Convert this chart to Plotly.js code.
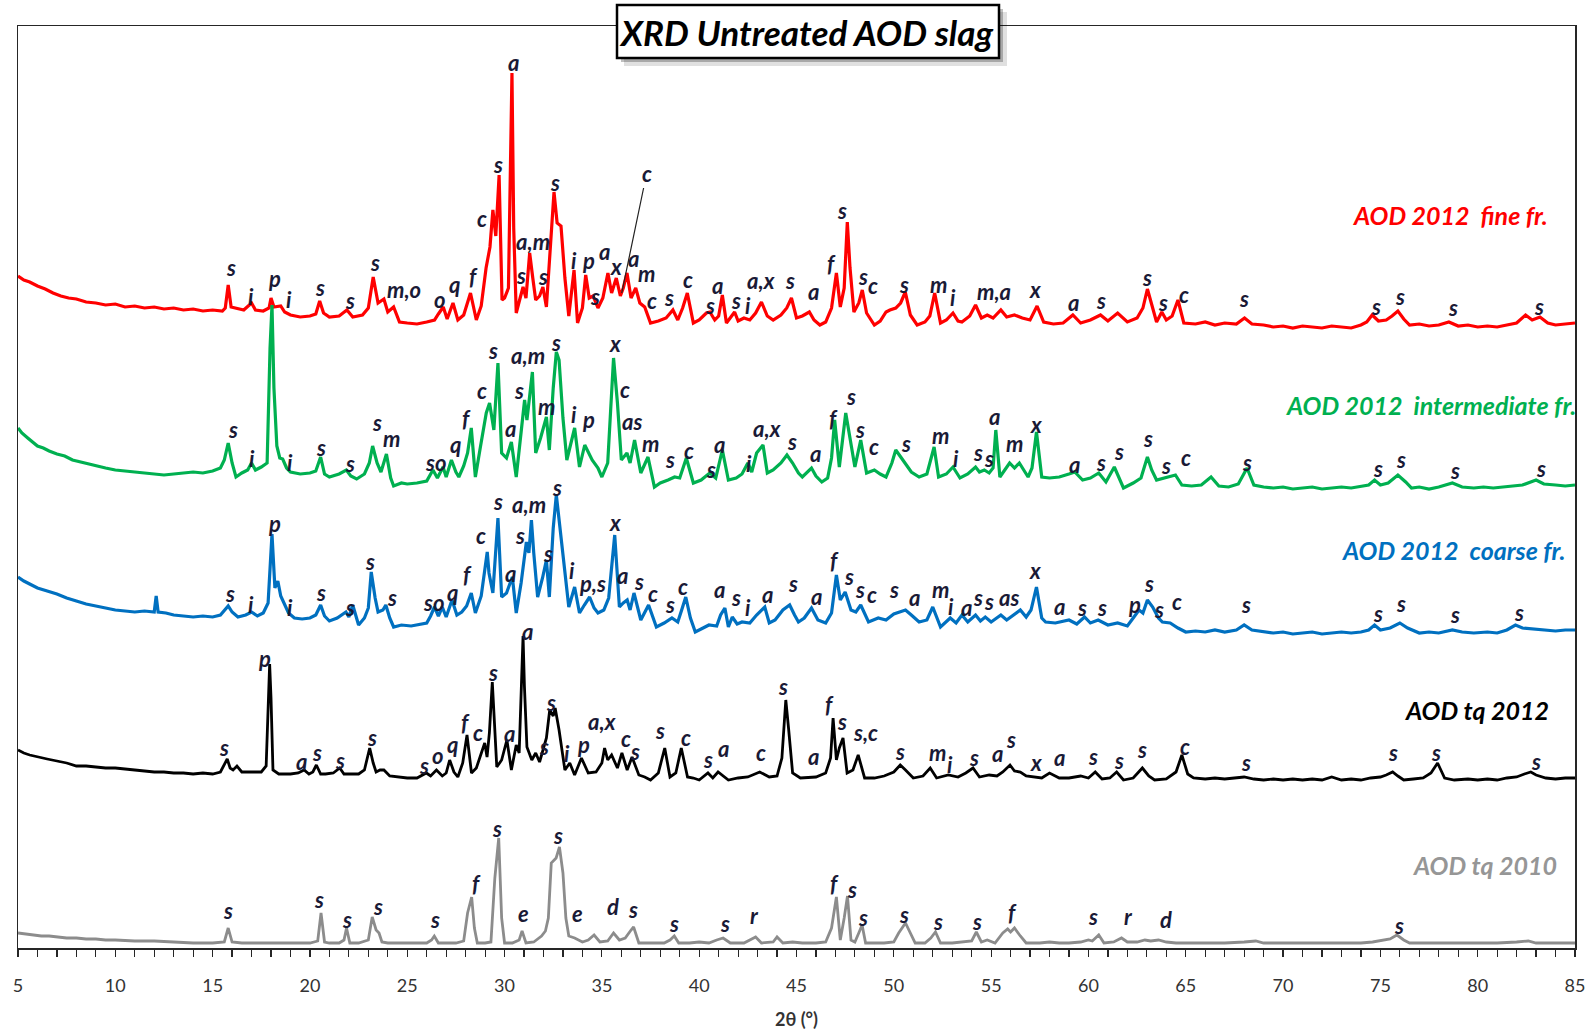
<!DOCTYPE html>
<html>
<head>
<meta charset="utf-8">
<script src="https://cdn.plot.ly/plotly-3.0.1.min.js"></script>
<style>html,body{margin:0;padding:0;background:#fff;}#chart{width:1591px;height:1035px;}</style>
</head>
<body>
<div id="chart"></div>
<script>
// ---------- series data (2θ in degrees, stacked intensity in plot units) ----------
const redX = [5.0,5.3,5.6,6.0,6.4,6.8,7.2,7.6,8.0,8.5,9.0,9.5,10.0,10.5,11.0,11.5,12.0,12.5,13.0,13.5,14.0,14.5,15.0,15.5,15.65,15.8,15.95,16.2,16.6,17.0,17.2,17.6,17.9,18.0,18.15,18.5,18.7,19.0,19.5,20.0,20.3,20.5,20.7,21.0,21.5,21.9,22.2,22.7,23.0,23.25,23.5,23.8,24.0,24.3,24.6,25.0,25.5,26.0,26.4,26.6,26.85,27.05,27.35,27.6,27.9,28.25,28.55,28.8,29.05,29.25,29.4,29.55,29.72,29.87,30.0,30.2,30.38,30.47,30.6,30.8,30.95,31.1,31.29,31.45,31.6,31.8,31.97,32.15,32.35,32.54,32.7,32.9,33.1,33.3,33.57,33.75,34.0,34.17,34.35,34.55,34.8,35.05,35.31,35.5,35.74,35.95,36.1,36.29,36.5,36.74,36.95,37.2,37.5,37.9,38.3,38.65,38.9,39.15,39.39,39.7,40.0,40.37,40.55,40.8,41.0,41.19,41.4,41.6,41.82,42.0,42.3,42.6,42.9,43.2,43.5,43.8,44.2,44.5,44.74,45.0,45.3,45.66,45.9,46.2,46.5,46.8,47.05,47.25,47.45,47.61,47.75,47.95,48.2,48.38,48.6,49.0,49.3,49.6,49.8,50.1,50.35,50.59,50.85,51.2,51.6,51.85,52.1,52.4,52.7,53.04,53.3,53.5,53.9,54.2,54.5,54.8,55.1,55.5,55.8,56.2,56.6,57.0,57.36,57.7,58.2,58.7,59.2,59.6,60.1,60.62,61.0,61.5,62.0,62.5,62.8,63.03,63.3,63.5,63.77,64.0,64.3,64.6,64.9,65.5,66.0,66.5,67.0,67.6,68.02,68.4,69.0,69.5,70.0,70.5,71.0,71.5,72.0,72.5,73.0,73.5,74.0,74.3,74.58,74.9,75.3,75.6,75.9,76.2,76.5,77.0,77.5,78.0,78.52,79.0,79.5,80.0,80.5,81.0,81.5,82.0,82.46,82.8,83.2,83.6,84.0,84.5,85.0];
const redY = [672,668,666,662,659,655,652,650,649,646,645,643,644,641,642,640,641,639,640,638,639,637,638,637,640,663,641,640,638,645,638,637,640,650,641,642,636,633,631,632,634,647,635,631,632,638,631,633,640,671,645,649,636,641,626,625,624,626,628,634,641,629,645,628,633,655,628,642,680,701,738,712,773,648,650,660,875,720,635,650,661,650,695,670,648,652,661,641,700,756,725,722,670,632,678,625,640,673,650,652,640,650,675,655,670,652,660,675,650,660,645,641,625,627,630,638,628,640,655,625,628,635,636,628,632,653,625,630,636,627,630,628,635,646,632,628,633,640,650,630,632,636,628,623,626,640,675,641,660,726,680,636,645,658,635,623,627,636,638,640,645,656,633,623,626,632,655,625,628,635,627,626,632,643,630,633,630,638,631,633,630,628,642,626,624,625,633,625,628,633,627,635,626,630,640,659,640,626,636,628,632,648,625,624,626,623,625,624,630,624,623,621,622,620,622,621,620,622,621,620,623,626,633,627,628,632,637,629,623,624,622,623,626,622,623,621,622,621,623,625,633,628,631,625,623,624,625];

const greenX = [5.0,5.2,5.5,5.8,6.0,6.3,6.6,7.0,7.4,7.8,8.2,8.6,9.0,9.5,10.0,10.5,11.0,11.5,12.0,12.5,13.0,13.5,14.0,14.5,15.0,15.4,15.6,15.8,16.0,16.2,16.5,16.8,17.0,17.2,17.5,17.8,17.95,18.05,18.15,18.3,18.45,18.6,18.8,19.0,19.5,20.0,20.3,20.55,20.75,21.0,21.5,21.87,22.1,22.4,22.8,23.05,23.22,23.45,23.65,23.93,24.15,24.3,24.7,25.0,25.5,26.0,26.32,26.55,26.84,27.0,27.27,27.5,27.65,27.9,28.1,28.29,28.5,28.75,29.06,29.23,29.45,29.66,29.85,30.1,30.35,30.6,30.86,31.03,31.15,31.43,31.6,31.85,32.15,32.3,32.5,32.66,32.8,33.0,33.2,33.6,33.85,34.12,34.5,34.8,35.0,35.3,35.6,35.8,36.0,36.29,36.45,36.68,37.0,37.37,37.7,38.0,38.4,38.74,39.0,39.34,39.7,40.1,40.54,40.85,41.19,41.5,41.9,42.2,42.5,42.7,42.95,43.28,43.5,43.8,44.2,44.51,44.8,45.1,45.3,45.77,46.0,46.3,46.6,46.8,46.96,47.2,47.53,47.75,48.0,48.3,48.6,49.0,49.3,49.6,49.9,50.1,50.4,50.6,50.9,51.3,51.7,52.07,52.3,52.7,53.04,53.4,53.8,54.2,54.4,54.65,54.9,55.1,55.24,55.45,55.7,55.95,56.2,56.45,56.9,57.1,57.33,57.6,58.0,58.5,59.0,59.3,59.7,60.1,60.53,60.9,61.33,61.8,62.3,62.7,63.03,63.25,63.5,63.9,64.47,64.8,65.3,65.8,66.3,66.7,67.2,67.7,68.15,68.5,69.0,69.5,70.0,70.5,71.0,71.5,72.0,72.5,73.0,73.5,74.0,74.4,74.7,75.0,75.4,75.9,76.3,76.6,77.0,77.5,78.0,78.7,79.2,79.8,80.3,80.8,81.3,81.8,82.3,83.0,83.4,84.0,84.5,85.0];
const greenY = [520,515,510,505,502,500,497,494,492,488,486,484,482,480,478,477,476,475,474,473,474,475,476,475,477,480,488,505,485,471,475,478,485,478,481,485,600,643,560,502,490,489,480,476,474,475,477,491,474,471,474,478,472,469,474,485,502,485,476,494,470,462,465,464,465,467,478,470,481,471,488,476,471,482,495,520,471,500,535,545,518,585,495,490,506,471,518,548,528,576,495,510,531,498,560,596,588,530,488,520,481,503,488,480,471,485,590,545,488,495,485,508,475,491,461,465,468,471,470,490,465,468,475,470,498,468,470,474,485,476,495,503,475,478,485,493,485,475,471,480,472,466,470,490,528,481,535,508,481,508,475,478,474,471,485,498,490,485,476,471,474,501,471,474,481,470,474,481,476,478,475,480,518,471,478,485,480,485,471,480,516,471,470,471,474,476,468,470,475,466,481,460,465,470,491,478,468,470,473,463,462,463,471,462,461,464,480,463,461,460,461,459,460,461,459,460,461,460,462,463,468,463,465,473,466,460,461,459,461,465,461,460,461,460,461,462,463,468,464,463,462,463];

const blueX = [5.0,5.3,5.6,6.0,6.5,7.0,7.5,8.0,8.5,9.0,9.5,10.0,10.5,11.0,11.5,12.0,12.1,12.2,12.6,13.0,13.5,14.0,14.5,15.0,15.4,15.65,15.8,16.0,16.3,16.7,17.0,17.3,17.6,17.85,18.05,18.2,18.35,18.5,18.7,18.9,19.2,19.6,20.0,20.3,20.55,20.75,21.0,21.4,21.85,22.0,22.2,22.5,22.8,23.0,23.15,23.35,23.5,23.75,23.9,24.1,24.3,24.7,25.2,25.7,26.0,26.2,26.4,26.6,26.8,27.0,27.3,27.55,27.8,28.05,28.29,28.5,28.8,29.11,29.2,29.4,29.66,29.85,30.1,30.4,30.6,30.85,31.12,31.25,31.38,31.5,31.7,31.95,32.15,32.3,32.5,32.66,32.8,33.0,33.3,33.6,33.85,34.1,34.37,34.6,34.8,35.1,35.35,35.66,35.9,36.1,36.3,36.45,36.65,37.0,37.2,37.4,37.8,38.2,38.6,38.9,39.1,39.31,39.55,39.8,40.2,40.5,40.9,41.1,41.32,41.5,41.7,41.95,42.2,42.6,42.95,43.37,43.6,43.9,44.3,44.65,44.9,45.1,45.4,45.77,46.1,46.5,46.8,47.05,47.25,47.5,47.8,48.05,48.3,48.7,49.2,49.6,50.0,50.3,50.6,50.9,51.3,51.7,52.0,52.4,52.7,52.9,53.2,53.5,53.8,54.2,54.45,54.7,55.0,55.5,55.8,56.2,56.5,56.8,57.05,57.33,57.6,57.8,58.3,59.0,59.4,59.8,60.1,60.5,61.0,61.5,62.0,62.3,62.6,62.8,63.03,63.3,63.6,63.8,64.2,64.6,65.0,65.5,66.0,66.5,67.0,67.6,68.0,68.4,69.0,69.5,70.0,70.5,71.0,71.5,72.0,72.5,73.0,73.5,74.0,74.4,74.7,75.0,75.5,76.0,76.4,77.0,77.5,78.0,78.7,79.2,79.8,80.5,81.0,81.5,81.94,82.3,82.8,83.3,84.0,84.5,85.0];
const blueY = [371,367,364,360,357,354,350,347,344,342,340,338,337,336,337,336,352,336,335,333,332,331,332,331,333,338,342,336,331,333,336,332,335,345,414,360,367,352,343,335,330,329,330,333,343,332,327,330,336,331,343,323,330,340,376,350,336,338,343,330,321,323,322,324,325,332,341,332,341,331,348,333,336,342,355,335,352,396,375,355,430,351,355,371,335,365,406,395,428,395,351,370,388,351,420,453,428,395,341,361,335,343,351,340,335,338,350,413,341,345,348,338,355,328,335,343,321,325,330,326,338,351,330,316,320,323,322,333,340,321,331,324,326,325,333,341,325,328,338,343,333,326,330,340,328,325,335,373,348,356,338,336,343,326,330,328,334,336,338,333,326,328,341,321,326,330,325,333,326,333,327,331,326,333,328,334,338,331,338,361,330,326,325,328,324,331,325,328,323,325,322,330,338,335,348,341,330,326,325,320,316,317,316,318,316,318,323,318,316,315,316,314,315,316,314,315,316,315,316,318,323,318,320,325,320,315,316,315,318,316,315,316,315,318,323,320,319,318,317,318,318];

const blackX = [5.0,5.3,5.6,6.0,6.5,7.0,7.5,8.0,8.5,9.0,9.5,10.0,10.5,11.0,11.5,12.0,12.5,13.0,13.5,14.0,14.5,15.0,15.4,15.6,15.75,15.9,16.05,16.25,16.5,17.0,17.5,17.75,17.85,17.93,18.0,18.1,18.4,19.0,19.4,19.7,19.95,20.15,20.33,20.55,20.8,21.2,21.53,21.75,22.0,22.5,22.8,23.07,23.25,23.4,23.6,23.8,24.1,24.5,25.0,25.5,25.98,26.2,26.5,26.8,27.0,27.18,27.4,27.6,27.85,28.07,28.3,28.55,28.8,28.98,29.1,29.22,29.37,29.5,29.6,29.85,30.12,30.35,30.6,30.75,30.9,30.95,31.02,31.15,31.4,31.6,31.8,32.0,32.15,32.32,32.5,32.6,32.8,33.1,33.35,33.6,33.95,34.3,34.7,35.0,35.14,35.3,35.5,35.8,36.03,36.3,36.55,36.9,37.2,37.5,37.9,38.23,38.5,38.8,39.08,39.4,39.7,40.0,40.45,40.7,40.97,41.5,42.0,42.5,43.11,43.6,44.0,44.25,44.45,44.6,44.8,45.2,45.7,46.0,46.5,46.75,46.88,47.05,47.2,47.39,47.6,47.9,48.17,48.5,49.0,49.5,50.0,50.33,50.6,51.0,51.5,51.87,52.2,52.8,53.3,53.7,54.07,54.4,54.9,55.3,55.6,55.97,56.2,56.5,56.8,57.2,57.6,58.0,58.5,59.0,59.6,60.0,60.35,60.7,61.1,61.45,61.8,62.3,62.77,63.1,63.4,64.0,64.5,64.8,65.1,65.4,66.0,66.5,67.0,67.5,68.0,68.5,69.0,69.5,70.0,70.5,71.0,71.5,72.0,72.5,73.0,73.5,74.0,74.5,75.0,75.3,75.63,75.9,76.2,76.7,77.2,77.6,77.94,78.3,78.8,79.5,80.0,80.5,81.0,81.5,82.0,82.4,82.73,83.0,83.5,84.0,84.5,85.0];
const blackY = [198,195,193,191,189,187,185,182,182,181,180,180,179,178,177,176,176,175,175,174,175,174,176,183,189,180,178,182,176,176,176,182,250,284,250,178,174,174,175,178,174,176,183,174,174,175,180,174,174,174,178,200,185,176,178,178,172,171,170,170,175,172,178,172,175,188,176,171,185,213,175,180,195,205,191,215,266,220,181,188,208,178,203,195,290,312,262,201,188,195,186,201,210,238,232,240,218,178,185,173,190,175,176,185,200,188,193,180,195,178,191,173,171,168,175,200,171,175,200,171,170,168,175,170,176,168,170,171,176,171,172,190,248,218,175,170,171,171,175,190,230,188,200,210,175,178,193,170,170,172,176,183,178,170,172,180,170,173,171,175,180,171,173,172,176,183,177,176,172,171,170,175,170,170,172,170,176,169,170,176,168,170,180,172,168,169,176,193,174,170,169,170,169,170,171,169,168,169,168,169,168,169,168,171,168,169,168,170,171,173,176,172,168,169,170,175,185,170,168,169,168,169,168,170,171,174,176,173,170,169,170,170];

const grayX = [5.0,5.4,5.8,6.2,6.6,7.0,7.5,8.0,8.5,9.0,9.5,10.0,11.0,12.0,13.0,14.0,15.0,15.6,15.8,16.0,16.5,17.0,18.0,19.0,20.0,20.4,20.57,20.75,21.0,21.5,21.75,21.88,22.05,22.5,23.0,23.2,23.4,23.55,23.7,24.0,25.0,26.0,26.25,26.39,26.6,27.0,27.5,27.9,28.1,28.31,28.45,28.6,29.0,29.3,29.5,29.7,29.85,30.0,30.4,30.75,30.9,31.1,31.5,31.9,32.1,32.25,32.4,32.65,32.82,33.0,33.15,33.3,33.6,34.0,34.3,34.6,34.9,35.3,35.6,35.9,36.2,36.5,36.63,36.9,37.5,38.2,38.5,38.72,38.95,39.5,40.0,40.5,40.9,41.23,41.6,42.3,42.9,43.2,43.8,44.0,44.3,44.8,45.3,46.0,46.5,46.8,47.05,47.25,47.45,47.62,47.8,48.0,48.2,48.37,48.55,49.0,49.5,50.0,50.25,50.6,50.85,51.1,51.6,51.9,52.14,52.4,53.0,53.5,54.0,54.24,54.5,54.8,55.2,55.6,55.85,56.0,56.2,56.5,56.8,57.5,58.0,58.5,59.0,59.6,60.0,60.2,60.53,60.8,61.3,61.7,62.0,62.5,62.9,63.2,63.6,64.0,64.5,65.0,66.0,67.0,68.0,68.6,69.0,70.0,71.0,72.0,73.0,74.0,74.6,75.0,75.5,75.85,76.2,76.5,77.0,78.0,79.0,80.0,81.0,82.0,82.6,83.0,84.0,85.0];
const grayY = [15,14,13,12,12,11,10,10,9,9,8,8,7,7,6,5,5,6,20,6,5,5,5,5,5,7,35,6,5,5,8,20,5,5,8,31,18,15,6,5,5,5,8,12,5,5,5,7,35,51,20,5,5,6,70,110,30,5,5,8,17,5,6,12,17,30,85,90,101,75,30,12,10,6,8,13,6,7,15,8,10,18,21,5,5,5,8,12,5,5,6,5,8,10,5,5,11,5,6,11,5,6,5,5,6,20,51,8,30,52,8,6,15,23,5,5,5,6,15,25,15,5,5,10,16,5,5,6,7,16,6,8,5,15,19,16,20,12,5,5,6,5,5,6,8,7,13,5,6,10,6,6,8,7,8,6,5,5,5,5,6,7,5,5,5,5,5,5,6,7,9,13,8,5,5,5,5,5,5,6,7,5,5,5];

// ---------- phase labels: [letter, 2θ, height] ----------
const redLabels = [["s",15.94,681],["i",16.98,652],["p",18.18,670],["i",18.9,649],["s",20.53,661],["s",22.04,648],["s",23.35,686],["m,o",24.81,659],["o",26.68,649],["q",27.41,664],["f",28.4,672],["c",28.82,730],["s",29.65,784],["a",30.44,886],["a,m",31.48,707],["s",30.85,673],["s",32.0,672],["s",32.57,766],["i",33.56,688],["p",34.29,688],["a",35.13,697],["x",35.75,682],["a",36.64,690],["s",34.66,652],["m",37.27,675],["c",37.58,648],["s",38.47,651],["c",39.4,669],["a",40.92,663],["s",40.55,643],["s",41.9,648],["i",42.53,643],["a,x",43.16,668],["s",44.67,668],["a",45.87,657],["f",46.81,685],["s",47.33,738],["s",48.42,672],["c",48.95,663],["s",50.51,664],["m",52.28,664],["i",53.06,651],["m,a",55.15,657],["x",57.24,659],["a",59.22,646],["s",60.63,648],["s",63.02,671],["s",63.81,646],["c",64.9,654],["s",67.98,650],["s",74.75,642],["s",76.0,652],["s",78.72,641],["s",83.15,642]];
const redPointer = ["c",36.02,655];
const greenLabels = [["s",16.05,519],["i",17.04,490],["i",18.97,486],["s",20.58,501],["s",22.04,485],["s",23.45,526],["m",24.18,510],["so",26.47,486],["q",27.46,504],["f",28.04,530],["c",28.82,558],["s",29.39,598],["a,m",31.22,593],["s",30.75,558],["a",30.28,520],["m",32.16,542],["s",32.63,606],["i",33.56,534],["p",34.29,529],["x",35.65,605],["c",36.17,559],["as",36.54,527],["m",37.48,505],["s",38.52,489],["c",39.46,498],["a",41.02,504],["s",40.6,479],["i",42.58,485],["a,x",43.47,520],["s",44.77,507],["a",45.97,495],["f",46.91,530],["s",47.8,552],["s",48.27,519],["c",48.99,502],["s",50.61,505],["m",52.39,513],["i",53.17,490],["s",54.32,496],["s",54.89,490],["a",55.15,532],["m",56.19,505],["x",57.29,524],["a",59.27,484],["s",60.63,486],["s",61.56,497],["s",63.07,510],["s",63.96,483],["c",65.0,491],["s",68.13,486],["s",74.86,480],["s",76.06,489],["s",78.82,478],["s",83.25,480]];
const blueLabels = [["s",15.89,355],["i",16.98,344],["p",18.18,425],["i",18.97,341],["s",20.58,356],["s",22.04,341],["s",23.1,387],["s",24.23,351],["so",26.37,346],["q",27.31,356],["f",28.09,374],["c",28.77,413],["s",29.65,447],["a,m",31.27,444],["s",30.8,413],["a",30.28,375],["s",32.21,395],["s",32.68,461],["i",33.46,378],["p,s",34.5,365],["x",35.65,426],["a",36.07,373],["s",36.9,367],["c",37.63,355],["s",38.52,344],["c",39.19,362],["a",41.02,359],["s",41.91,351],["i",42.53,341],["a",43.52,354],["s",44.83,365],["a",46.03,352],["f",46.96,388],["s",47.69,372],["s",48.27,359],["c",48.89,354],["s",49.99,359],["a",51.08,351],["m",52.39,359],["i",52.96,342],["a",53.74,341],["s",54.32,351],["s",54.89,347],["as",55.93,351],["x",57.24,378],["a",58.49,342],["s",59.69,341],["s",60.68,341],["p",62.35,344],["s",63.13,365],["s",63.65,339],["c",64.53,347],["s",68.08,344],["s",74.86,335],["s",76.06,345],["s",78.82,334],["s",82.1,336]];
const blackLabels = [["s",15.58,201],["p",17.66,290],["a",19.59,187],["s",20.37,196],["s",21.52,188],["s",23.19,211],["s",25.85,183],["o",26.58,193],["q",27.31,204],["f",27.99,226],["c",28.66,216],["s",29.39,276],["a",30.23,215],["a",31.17,317],["s",32.05,202],["s",32.37,246],["i",33.2,195],["p",34.03,204],["a,x",35.02,227],["c",36.22,210],["s",36.69,197],["s",37.99,218],["c",39.3,211],["s",40.45,189],["a",41.23,200],["c",43.16,196],["s",44.3,262],["a",45.87,192],["f",46.7,244],["s",47.33,227],["s,c",48.53,216],["s",50.3,197],["m",52.23,196],["i",52.91,184],["s",54.11,191],["a",55.31,195],["s",56.04,209],["x",57.29,186],["a",58.49,191],["s",60.21,192],["s",61.56,188],["s",62.76,199],["c",64.95,202],["s",68.08,186],["s",75.64,196],["s",77.88,196],["s",82.99,187]];
const grayLabels = [["s",15.79,38],["s",20.48,49],["s",21.89,29],["s",23.5,42],["s",26.42,29],["f",28.56,65],["s",29.6,120],["e",30.96,35],["s",32.73,113],["e",33.77,35],["d",35.55,42],["s",36.59,39],["s",38.73,25],["s",41.33,25],["r",42.85,33],["f",46.96,65],["s",47.85,59],["s",48.42,31],["s",50.51,34],["s",52.28,27],["s",54.26,27],["f",56.09,36],["s",60.21,32],["r",62.08,32],["d",63.96,29],["s",75.95,23]];

const seriesNames = ["AOD 2012\u00A0 fine fr.","AOD 2012\u00A0 intermediate fr.","AOD 2012\u00A0 coarse fr.","AOD tq 2012","AOD tq 2010"];
const chartTitle = "XRD Untreated AOD slag";
const xTitle = "2θ (°)";

// ---------- build ----------
const colors = ["#FF0000","#00B050","#0070C0","#000000","#8C8C8C"];
const xs = [redX, greenX, blueX, blackX, grayX];
const ys = [redY, greenY, blueY, blackY, grayY];
const traces = xs.map((x, i) => ({
  x: x, y: ys[i], type: "scatter", mode: "lines", name: seriesNames[i],
  line: {color: colors[i], width: i < 3 ? 3.2 : 2.8}, hoverinfo: "skip"
}));

const FONT = "Lato, 'Open Sans', sans-serif";
const LABEL_FONT = {family: FONT, size: 22, color: "#1a1a36", style: "italic", weight: "bold"};
const annotations = [];
function addLabels(list) {
  list.forEach(l => annotations.push({
    x: l[1], y: l[2], xref: "x", yref: "y", text: l[0], showarrow: false,
    font: LABEL_FONT, xanchor: "center", yanchor: "middle"
  }));
}
[redLabels, greenLabels, blueLabels, blackLabels, grayLabels].forEach(addLabels);
annotations.push({
  x: redPointer[1], y: redPointer[2], xref: "x", yref: "y", text: redPointer[0],
  showarrow: true, arrowhead: 0, arrowwidth: 1.2, arrowcolor: "#222", ax: 25, ay: -120,
  font: LABEL_FONT
});

// page geometry (pixels)
const L = 18, R = 16, T = 26, B = 87, W = 1591, H = 1035;
const pw = W - L - R, ph = H - T - B;
const px = v => (v - L) / pw;
const py = v => (H - B - v) / ph;

const nameRight = [1550, 1578, 1567, 1551, 1559];
const nameMid = [215, 405, 550, 710, 865];
const nameSize = [25, 25, 25, 25, 25];
const nameColor = ["#FF0000", "#00B050", "#0070C0", "#000000", "#969696"];
seriesNames.forEach((n, i) => annotations.push({
  x: px(nameRight[i]), y: py(nameMid[i]), xref: "paper", yref: "paper", text: n, showarrow: false,
  xanchor: "right", yanchor: "middle",
  font: {family: FONT, size: nameSize[i], color: nameColor[i], style: "italic", weight: "bold"}
}));

annotations.push({
  xref: "paper", yref: "paper", x: px(806), y: py(32), text: chartTitle, showarrow: false,
  xanchor: "center", yanchor: "middle",
  font: {family: FONT, size: 35, color: "#000", style: "italic", weight: "bold"}
});
const shapes = [
  {type: "rect", xref: "paper", yref: "paper", x0: px(624), x1: px(1007), y0: py(66), y1: py(12),
   fillcolor: "rgba(0,0,0,0.12)", line: {width: 0}, layer: "above"},
  {type: "rect", xref: "paper", yref: "paper", x0: px(621), x1: px(1003), y0: py(62), y1: py(9),
   fillcolor: "rgba(0,0,0,0.25)", line: {width: 0}, layer: "above"},
  {type: "rect", xref: "paper", yref: "paper", x0: px(617), x1: px(999), y0: py(58), y1: py(5),
   fillcolor: "#ffffff", line: {color: "#000", width: 2.5}, layer: "above"}
];

const layout = {
  width: W, height: H, margin: {l: L, r: R, t: T, b: B, pad: 0},
  paper_bgcolor: "#fff", plot_bgcolor: "#fff", showlegend: false,
  xaxis: {
    range: [5, 85], showline: true, linecolor: "#262626", linewidth: 1.5, mirror: true,
    ticks: "outside", ticklen: 7, tickwidth: 1.2, tickcolor: "#262626", tick0: 5, dtick: 5,
    minor: {dtick: 1, ticks: "outside", ticklen: 7, tickwidth: 1.2, tickcolor: "#262626", showgrid: false},
    showgrid: false, zeroline: false, ticklabelstandoff: 14,
    tickfont: {family: FONT, size: 18, color: "#333"},
    title: {text: xTitle, standoff: 18, font: {family: FONT, size: 18, color: "#333", weight: "bold"}}
  },
  yaxis: {
    range: [0, 922], showline: true, linecolor: "#262626", linewidth: 1.5, mirror: true,
    showticklabels: false, ticks: "", showgrid: false, zeroline: false
  },
  annotations: annotations, shapes: shapes
};
Plotly.newPlot("chart", traces, layout, {staticPlot: true, displayModeBar: false});
</script>
</body>
</html>
